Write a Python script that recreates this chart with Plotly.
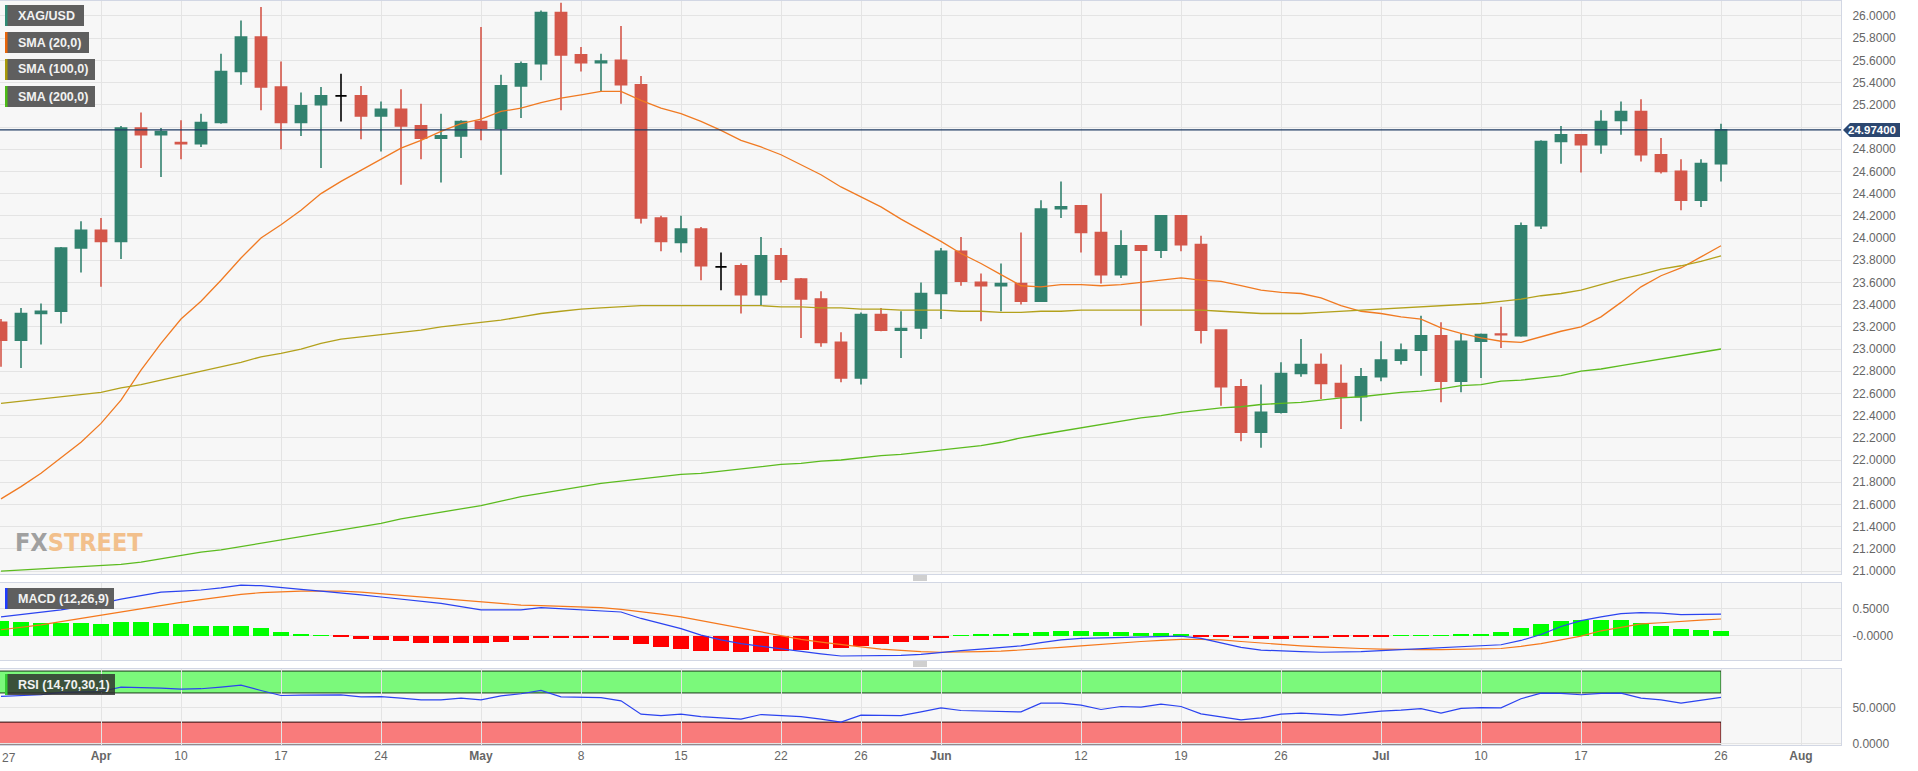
import plotly.graph_objects as go

# ---------------- data ----------------
idx = list(range(87))
opens = [23.24, 23.08, 23.32, 23.34, 23.91, 24.07, 23.97, 24.99, 24.93, 24.86,
         24.85, 25.04, 25.50, 25.81, 25.36, 25.04, 25.20, 25.28, 25.28, 25.10,
         25.16, 25.01, 24.90, 24.92, 25.05, 24.99, 25.37, 25.57, 26.03, 25.65,
         25.58, 25.60, 25.38, 24.18, 23.96, 24.08, 23.74, 23.75, 23.49, 23.84,
         23.63, 23.45, 23.06, 22.74, 23.31, 23.17, 23.19, 23.50, 23.88, 23.60,
         23.57, 23.59, 23.43, 24.265, 24.29, 24.05, 23.67, 23.93, 23.89, 24.20,
         23.94, 23.17, 22.66, 22.25, 22.43, 22.78, 22.86, 22.69, 22.57, 22.75,
         22.90, 22.99, 23.12, 22.71, 23.07, 23.135, 23.12, 24.11, 24.87, 24.93,
         24.84, 25.06, 25.14, 24.75, 24.60, 24.34, 24.67]
highs = [23.27, 23.37, 23.41, 23.92, 24.15, 24.18, 25.01, 25.13, 24.99, 25.06,
         25.12, 25.66, 25.96, 26.08, 25.59, 25.31, 25.36, 25.48, 25.37, 25.23,
         25.34, 25.21, 25.12, 25.06, 25.90, 25.47, 25.59, 26.05, 26.12, 25.72,
         25.66, 25.91, 25.46, 24.20, 24.20, 24.10, 23.87, 23.77, 24.01, 23.91,
         23.64, 23.52, 23.15, 23.33, 23.37, 23.34, 23.60, 23.91, 24.01, 23.68,
         23.77, 24.05, 24.34, 24.51, 24.29, 24.40, 24.07, 23.93, 24.20, 24.20,
         24.02, 23.17, 22.73, 22.68, 22.88, 23.09, 22.96, 22.86, 22.83, 23.07,
         23.05, 23.30, 23.24, 23.14, 23.14, 23.38, 24.14, 24.88, 25.01, 24.93,
         25.15, 25.23, 25.25, 24.90, 24.71, 24.71, 25.03]
lows = [22.84, 22.83, 23.04, 23.23, 23.69, 23.56, 23.81, 24.63, 24.55, 24.71,
        24.82, 25.03, 25.38, 25.15, 24.80, 24.92, 24.63, 25.05, 24.89, 24.78,
        24.48, 24.71, 24.50, 24.72, 24.88, 24.57, 25.08, 25.42, 25.15, 25.50,
        25.32, 25.21, 24.13, 23.88, 23.87, 23.62, 23.53, 23.32, 23.39, 23.60,
        23.10, 23.02, 22.70, 22.68, 23.16, 22.92, 23.09, 23.27, 23.57, 23.25,
        23.34, 23.40, 23.43, 24.18, 23.87, 23.59, 23.64, 23.21, 23.82, 23.88,
        23.05, 22.49, 22.17, 22.11, 22.42, 22.75, 22.55, 22.28, 22.35, 22.71,
        22.86, 22.76, 22.52, 22.61, 22.74, 23.01, 23.11, 24.08, 24.67, 24.59,
        24.76, 24.93, 24.69, 24.58, 24.25, 24.28, 24.51]
closes = [23.08, 23.32, 23.34, 23.91, 24.07, 23.97, 24.99, 24.93, 24.96, 24.85,
          25.04, 25.50, 25.81, 25.36, 25.04, 25.19, 25.28, 25.28, 25.10, 25.16,
          25.01, 24.90, 24.92, 25.05, 24.99, 25.37, 25.57, 26.03, 25.65, 25.58,
          25.595, 25.38, 24.18, 23.97, 24.08, 23.75, 23.74, 23.49, 23.84, 23.63,
          23.45, 23.06, 22.74, 23.31, 23.17, 23.185, 23.50, 23.88, 23.61, 23.57,
          23.59, 23.43, 24.26, 24.28, 24.05, 23.67, 23.93, 23.89, 24.20, 23.94,
          23.17, 22.66, 22.25, 22.43, 22.78, 22.86, 22.69, 22.57, 22.75, 22.90,
          22.99, 23.12, 22.71, 23.07, 23.13, 23.13, 24.11, 24.87, 24.93, 24.84,
          25.05, 25.14, 24.75, 24.60, 24.34, 24.67, 24.974]
black_doji = [17, 36]
last_price = 24.974

sma20 = [21.65, 21.76, 21.88, 22.02, 22.16, 22.33, 22.54, 22.81, 23.05, 23.27,
         23.43, 23.62, 23.82, 24.00, 24.12, 24.25, 24.40, 24.51, 24.61, 24.71,
         24.81, 24.88, 24.96, 25.03, 25.07, 25.14, 25.17, 25.22, 25.26, 25.29,
         25.32, 25.32, 25.24, 25.17, 25.12, 25.05, 24.97, 24.88, 24.82, 24.75,
         24.66, 24.57, 24.46, 24.37, 24.28, 24.17, 24.07, 23.97, 23.86, 23.77,
         23.67, 23.57, 23.56, 23.58, 23.58, 23.57, 23.58, 23.60, 23.62, 23.64,
         23.62, 23.61, 23.57, 23.53, 23.51, 23.50, 23.46, 23.39, 23.34, 23.32,
         23.29, 23.27, 23.19, 23.14, 23.10, 23.07, 23.06, 23.11, 23.16, 23.20,
         23.29, 23.42, 23.56, 23.66, 23.73, 23.83, 23.93]
sma100 = [22.51, 22.53, 22.55, 22.57, 22.59, 22.61, 22.65, 22.68, 22.72, 22.76,
          22.80, 22.84, 22.88, 22.93, 22.96, 23.00, 23.05, 23.09, 23.11, 23.13,
          23.15, 23.17, 23.20, 23.22, 23.24, 23.26, 23.29, 23.32, 23.34, 23.36,
          23.37, 23.38, 23.39, 23.39, 23.39, 23.39, 23.39, 23.39, 23.39, 23.38,
          23.38, 23.37, 23.37, 23.36, 23.36, 23.35, 23.35, 23.35, 23.34, 23.34,
          23.33, 23.33, 23.34, 23.34, 23.35, 23.35, 23.35, 23.35, 23.35, 23.35,
          23.35, 23.34, 23.33, 23.32, 23.32, 23.32, 23.33, 23.34, 23.35, 23.36,
          23.37, 23.38, 23.39, 23.40, 23.41, 23.43, 23.45, 23.48, 23.50, 23.53,
          23.58, 23.63, 23.67, 23.72, 23.75, 23.79, 23.84]
sma200 = [21.00, 21.01, 21.02, 21.03, 21.04, 21.045, 21.06, 21.08, 21.11, 21.14,
          21.17, 21.19, 21.22, 21.25, 21.28, 21.31, 21.34, 21.37, 21.40, 21.43,
          21.47, 21.50, 21.53, 21.56, 21.59, 21.63, 21.67, 21.70, 21.73, 21.76,
          21.79, 21.81, 21.83, 21.85, 21.87, 21.88, 21.90, 21.92, 21.94, 21.96,
          21.97, 21.99, 22.00, 22.02, 22.04, 22.05, 22.07, 22.09, 22.11, 22.13,
          22.16, 22.20, 22.23, 22.26, 22.29, 22.32, 22.35, 22.38, 22.40, 22.43,
          22.45, 22.47, 22.48, 22.50, 22.51, 22.52, 22.54, 22.56, 22.57, 22.59,
          22.61, 22.62, 22.64, 22.67, 22.68, 22.71, 22.72, 22.74, 22.76, 22.80,
          22.82, 22.85, 22.88, 22.91, 22.94, 22.97, 23.00]

macd_line = [0.35, 0.39, 0.43, 0.48, 0.54, 0.60, 0.68, 0.75, 0.81, 0.83,
             0.85, 0.89, 0.94, 0.93, 0.89, 0.86, 0.83, 0.80, 0.76, 0.72,
             0.68, 0.64, 0.60, 0.54, 0.48, 0.48, 0.48, 0.52, 0.50, 0.49,
             0.47, 0.44, 0.32, 0.23, 0.13, 0.01, -0.08, -0.15, -0.20, -0.25,
             -0.30, -0.34, -0.38, -0.38, -0.38, -0.37, -0.35, -0.31, -0.28, -0.25,
             -0.22, -0.19, -0.13, -0.08, -0.05, -0.04, -0.03, -0.03, -0.01, -0.01,
             -0.05, -0.13, -0.22, -0.27, -0.29, -0.30, -0.31, -0.31, -0.30, -0.28,
             -0.26, -0.24, -0.23, -0.21, -0.19, -0.17, -0.09, 0.02, 0.17, 0.28,
             0.35, 0.41, 0.43, 0.42, 0.39, 0.39, 0.40]
signal_line = [0.11, 0.15, 0.20, 0.26, 0.32, 0.38, 0.44, 0.51, 0.56, 0.62,
               0.67, 0.72, 0.77, 0.80, 0.82, 0.83, 0.83, 0.83, 0.81, 0.78,
               0.75, 0.72, 0.69, 0.65, 0.62, 0.59, 0.57, 0.56, 0.55, 0.54,
               0.52, 0.49, 0.45, 0.40, 0.35, 0.28, 0.21, 0.13, 0.06, -0.01,
               -0.07, -0.12, -0.17, -0.21, -0.25, -0.28, -0.30, -0.31, -0.31, -0.30,
               -0.29, -0.27, -0.25, -0.22, -0.19, -0.16, -0.14, -0.11, -0.09, -0.07,
               -0.07, -0.08, -0.11, -0.14, -0.17, -0.19, -0.21, -0.23, -0.24, -0.25,
               -0.26, -0.26, -0.26, -0.25, -0.25, -0.24, -0.20, -0.15, -0.08, -0.01,
               0.09, 0.16, 0.22, 0.24, 0.27, 0.29, 0.31]
macd_hist = [0.28, 0.26, 0.23, 0.24, 0.24, 0.22, 0.26, 0.26, 0.24, 0.21,
             0.185, 0.18, 0.18, 0.136, 0.074, 0.037, 0.006, -0.02, -0.06, -0.08,
             -0.11, -0.136, -0.14, -0.14, -0.14, -0.117, -0.09, -0.043, -0.043, -0.05,
             -0.05, -0.074, -0.154, -0.22, -0.25, -0.278, -0.29, -0.30, -0.30, -0.29,
             -0.27, -0.25, -0.24, -0.20, -0.16, -0.12, -0.08, -0.04, 0.01, 0.02,
             0.03, 0.04, 0.06, 0.08, 0.08, 0.07, 0.06, 0.05, 0.04, 0.02,
             -0.01, -0.03, -0.05, -0.06, -0.06, -0.05, -0.04, -0.03, -0.02, -0.01,
             0.005, 0.01, 0.01, 0.015, 0.02, 0.06, 0.136, 0.22, 0.27, 0.285,
             0.29, 0.285, 0.235, 0.185, 0.124, 0.10, 0.087]

rsi = [65.2, 66.5, 67.5, 70.7, 71.5, 72.0, 78.0, 77.5, 76.7, 75.3,
       75.8, 78.0, 80.8, 73.4, 66.5, 67.0, 67.2, 67.3, 64.7, 65.0,
       63.0, 60.6, 60.6, 62.9, 60.6, 66.1, 68.9, 73.4, 64.7, 63.8,
       63.5, 59.2, 40.9, 39.0, 40.9, 37.6, 36.0, 34.0, 40.4, 39.0,
       37.6, 34.0, 29.9, 39.5, 39.2, 39.0, 44.0, 49.6, 45.9, 45.0,
       44.0, 44.0, 56.0, 56.0, 53.3, 47.3, 51.4, 50.5, 54.7, 51.4,
       41.3, 36.7, 33.0, 35.8, 40.9, 42.3, 40.4, 39.5, 42.3, 45.0,
       46.4, 48.6, 42.3, 48.8, 50.0, 49.6, 62.0, 69.8, 69.4, 67.5,
       69.4, 69.8, 63.0, 60.6, 56.0, 59.7, 63.8]

# first label ("27") is drawn as a left-anchored annotation so it is not cut at the edge
first_tick_label = "27"
tick_pos = [0, 5, 9, 14, 19, 24, 29, 34, 39, 43, 47, 54, 59, 64, 69, 74, 79, 86, 90]
tick_txt = ["", "<b>Apr</b>", "10", "17", "24", "<b>May</b>", "8", "15", "22", "26",
            "<b>Jun</b>", "12", "19", "26", "<b>Jul</b>", "10", "17", "26", "<b>Aug</b>"]
price_ticks = [round(21.0 + 0.2 * k, 1) for k in range(26)]

# ---------------- styling ----------------
W, H = 1918, 771
ML, MR, MT, MB = 0, 77, 1, 26
PW, PH = W - ML - MR, H - MT - MB
GREEN = "#32826f"
RED = "#d4574a"
GRID = "#e4e4e4"
BORDER = "#d2d7e4"
FONT = "Liberation Sans, Arial, sans-serif"


def px_x(px):
    return (px - ML) / PW


def px_y(py):
    return 1 - (py - MT) / PH


fig = go.Figure()

main_i = [i for i in idx if i not in black_doji]
fig.add_trace(go.Candlestick(
    x=main_i, open=[opens[i] for i in main_i], high=[highs[i] for i in main_i],
    low=[lows[i] for i in main_i], close=[closes[i] for i in main_i],
    increasing=dict(line=dict(color=GREEN, width=1.6), fillcolor=GREEN),
    decreasing=dict(line=dict(color=RED, width=1.6), fillcolor=RED),
    xaxis="x", yaxis="y", hoverinfo="skip", showlegend=False))
fig.add_trace(go.Candlestick(
    x=black_doji, open=[opens[i] for i in black_doji], high=[highs[i] for i in black_doji],
    low=[lows[i] for i in black_doji], close=[closes[i] for i in black_doji],
    increasing=dict(line=dict(color="#000000", width=1.6), fillcolor="#000000"),
    decreasing=dict(line=dict(color="#000000", width=1.6), fillcolor="#000000"),
    xaxis="x", yaxis="y", hoverinfo="skip", showlegend=False))

for vals, col in [(sma20, "#f07a22"), (sma100, "#b3a11c"), (sma200, "#5cbb1f")]:
    fig.add_trace(go.Scatter(x=idx, y=vals, mode="lines", line=dict(color=col, width=1.3),
                             xaxis="x", yaxis="y", hoverinfo="skip", showlegend=False))

fig.add_trace(go.Bar(x=idx, y=macd_hist, width=0.8,
                     marker=dict(color=["#00ff00" if v >= 0 else "#ff0000" for v in macd_hist],
                                 line=dict(width=0)),
                     xaxis="x2", yaxis="y2", hoverinfo="skip", showlegend=False))
fig.add_trace(go.Scatter(x=idx, y=signal_line, mode="lines", line=dict(color="#f5781c", width=1.2),
                         xaxis="x2", yaxis="y2", hoverinfo="skip", showlegend=False))
fig.add_trace(go.Scatter(x=idx, y=macd_line, mode="lines", line=dict(color="#2b43f0", width=1.2),
                         xaxis="x2", yaxis="y2", hoverinfo="skip", showlegend=False))

fig.add_trace(go.Scatter(x=idx, y=rsi, mode="lines", line=dict(color="#2b43f0", width=1.2),
                         xaxis="x3", yaxis="y3", hoverinfo="skip", showlegend=False))

xr = [-0.05, PW / 20 - 0.05]
xcommon = dict(range=xr, tickvals=tick_pos, ticktext=tick_txt, showgrid=True, gridcolor=GRID,
               zeroline=False, showline=True, mirror=True, linecolor=BORDER, ticks="",
               fixedrange=True, automargin=False)
ycommon = dict(side="right", showgrid=True, gridcolor=GRID, zeroline=False, showline=True,
               mirror=True, linecolor=BORDER, ticks="", ticklabelstandoff=8, automargin=False,
               tickfont=dict(family=FONT, size=12, color="#666666"))

shapes = []
annotations = []

# RSI bands
shapes.append(dict(type="rect", xref="x3", yref="y3", x0=-1, x1=86, y0=70, y1=100,
                   fillcolor="#7bf97b", line=dict(color="#1d3a1d", width=1), layer="below"))
shapes.append(dict(type="rect", xref="x3", yref="y3", x0=-1, x1=86, y0=0, y1=30,
                   fillcolor="#f97b7b", line=dict(color="#2a0d0d", width=1), layer="below"))

# current price line and label
shapes.append(dict(type="line", xref="paper", yref="y", x0=0, x1=1, y0=last_price, y1=last_price,
                   line=dict(color="#1f3b63", width=1.2)))
hh = 0.063
shapes.append(dict(type="path", xref="paper", yref="y",
                   path=f"M {px_x(1843)} {last_price} L {px_x(1850)} {last_price + hh} "
                        f"L {px_x(1900)} {last_price + hh} L {px_x(1900)} {last_price - hh} "
                        f"L {px_x(1850)} {last_price - hh} Z",
                   fillcolor="#2c4770", line=dict(width=0)))
annotations.append(dict(xref="paper", yref="y", x=px_x(1872), y=last_price, xanchor="center",
                        text=f"<b>{last_price:.5f}</b>", showarrow=False,
                        font=dict(family=FONT, size=11.5, color="#ffffff")))

# first x tick label
annotations.append(dict(xref="paper", yref="paper", x=px_x(0), y=px_y(758), xanchor="left",
                        yanchor="middle", text=first_tick_label, showarrow=False,
                        font=dict(family=FONT, size=12, color="#666666")))

# legend-like label boxes
labels = [("XAG/USD", 5, 84, 5, 26, "#2e8b74", "#5f5f5f"),
          ("SMA (20,0)", 5, 89, 32, 53, "#e8650a", "#5f5f5f"),
          ("SMA (100,0)", 5, 95, 59, 80, "#a89a0a", "#5f5f5f"),
          ("SMA (200,0)", 5, 95, 86, 107, "#4cbb17", "#5f5f5f"),
          ("MACD (12,26,9)", 5, 114, 588, 609, "#1f3cff", "#5f5f5f"),
          ("RSI (14,70,30,1)", 5, 115, 674, 695, "#33cc33", "rgba(45,45,45,0.82)")]
for txt, x0, x1, y0, y1, stripe, bg in labels:
    shapes.append(dict(type="rect", xref="paper", yref="paper", x0=px_x(x0), x1=px_x(x1),
                       y0=px_y(y1), y1=px_y(y0), fillcolor=bg, line=dict(width=0)))
    shapes.append(dict(type="rect", xref="paper", yref="paper", x0=px_x(x0), x1=px_x(x0 + 2.5),
                       y0=px_y(y1), y1=px_y(y0), fillcolor=stripe, line=dict(width=0)))
    annotations.append(dict(xref="paper", yref="paper", x=px_x(x0 + 11), y=px_y((y0 + y1) / 2),
                            xanchor="left", yanchor="middle", text=f"<b>{txt}</b>",
                            showarrow=False, font=dict(family=FONT, size=12.5, color="#f2f2f2")))

# watermark
annotations.append(dict(xref="paper", yref="paper", x=px_x(13), y=px_y(542), xanchor="left",
                        yanchor="middle", showarrow=False,
                        text="<b><span style='color:#a0a0a0'>FX</span>"
                             "<span style='color:#f2c08c'>STREET</span></b>",
                        font=dict(family="DejaVu Sans Condensed, Liberation Sans Narrow, sans-serif",
                                  size=25)))

# panel drag handles
for yc in (578, 664):
    for dy in (-2, 0, 2):
        shapes.append(dict(type="line", xref="paper", yref="paper", x0=px_x(913), x1=px_x(927),
                           y0=px_y(yc + dy), y1=px_y(yc + dy), line=dict(color="#a0a0a0", width=1)))

fig.update_layout(
    width=W, height=H, margin=dict(l=ML, r=MR, t=MT, b=MB, autoexpand=False),
    paper_bgcolor="#ffffff", plot_bgcolor="#f7f7f7", showlegend=False, bargap=0,
    boxgap=0.2,
    xaxis=dict(**xcommon, anchor="y", showticklabels=False, rangeslider=dict(visible=False)),
    xaxis2=dict(**xcommon, anchor="y2", showticklabels=False),
    xaxis3=dict(**xcommon, anchor="y3", showticklabels=True,
                tickfont=dict(family=FONT, size=12, color="#666666")),
    yaxis=dict(**ycommon, domain=[0.2298, 1.0], range=[20.973, 26.135],
               tickvals=price_ticks,
               ticktext=["" if abs(v - 25.0) < 1e-9 else f"{v:.4f}" for v in price_ticks]),
    yaxis2=dict(**ycommon, domain=[0.1142, 0.2177], range=[-0.455, 0.98],
                tickvals=[0.5, 0.0], ticktext=["0.5000", "-0.0000"]),
    yaxis3=dict(**ycommon, domain=[0.0, 0.1022], range=[-1.4, 102.9],
                tickvals=[50, 0], ticktext=["50.0000", "0.0000"]),
    shapes=shapes, annotations=annotations,
)

fig.write_html("out.html", config={"displayModeBar": False},
               post_script="document.body.style.margin='0';document.body.style.overflow='hidden';")
